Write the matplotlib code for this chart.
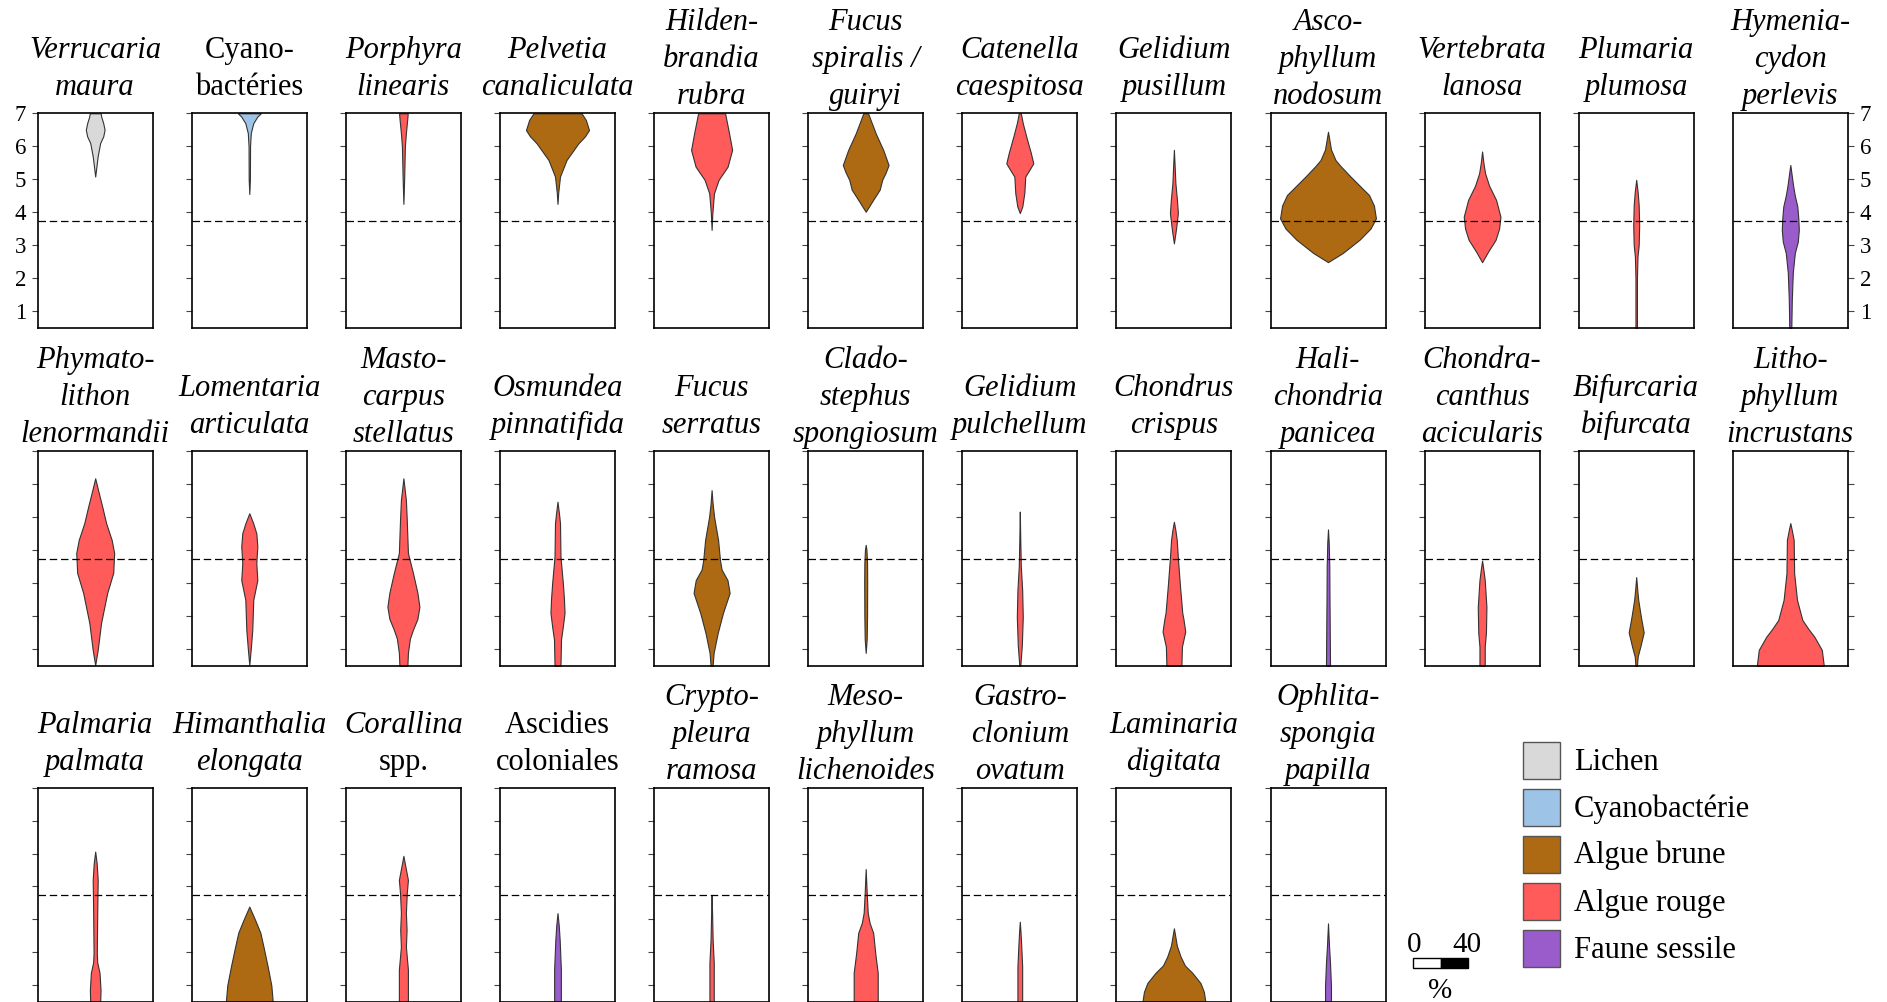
import matplotlib.pyplot as plt
from matplotlib.patches import Rectangle

plt.rcParams['font.family'] = ['Liberation Serif', 'DejaVu Serif']

# height / cover (%) profiles (bottom -> top)
verrucaria_h = [5.08, 5.4, 5.7, 6.1, 6.3, 6.5, 6.7, 6.9, 7.0]
verrucaria_c = [0, 1.9, 3.7, 7.4, 11.9, 13.9, 11.9, 8.9, 8.1]
cyano_h = [4.55, 5.0, 6.0, 6.4, 6.7, 6.9, 7.0]
cyano_c = [0, 0.9, 1.1, 2.2, 5.9, 11.9, 17.0]
porphyra_h = [4.25, 5.0, 6.0, 6.4, 6.8, 7.0]
porphyra_c = [0, 1.1, 2.2, 3.7, 5.6, 6.4]
pelvetia_h = [4.25, 4.6, 5.08, 5.58, 6.09, 6.3, 6.49, 6.8, 7.0]
pelvetia_c = [0, 1.1, 3.7, 13.3, 31.0, 40.7, 46.7, 42.0, 35.6]
hildenbrandia_h = [3.46, 3.96, 4.57, 4.98, 5.38, 5.89, 6.39, 7.0]
hildenbrandia_c = [0, 1.1, 3.5, 10.4, 23.7, 30.4, 25.9, 20.0]
fspiralis_h = [4.01, 4.37, 4.68, 4.98, 5.2, 5.43, 5.89, 6.39, 7.0]
fspiralis_c = [0, 11.0, 20.7, 24.4, 29.6, 33.9, 25.9, 14.8, 3.5]
catenella_h = [3.97, 4.17, 4.58, 5.08, 5.25, 5.48, 5.8, 6.29, 6.7, 7.0]
catenella_c = [0, 3.7, 6.7, 8.1, 13.3, 20.0, 16.3, 9.6, 4.4, 1.5]
gpusillum_h = [3.05, 3.47, 3.97, 4.4, 4.88, 5.4, 5.89]
gpusillum_c = [0, 3.0, 5.9, 4.4, 2.2, 1.1, 0]
ascophyllum_h = [2.48, 2.76, 3.16, 3.5, 3.81, 4.2, 4.52, 5.08, 5.4, 5.58, 5.9, 6.44]
ascophyllum_c = [0, 22.0, 46.7, 63.0, 71.0, 68.0, 60.7, 33.3, 18.5, 11.1, 4.4, 0]
vertebrata_h = [2.48, 2.8, 3.16, 3.5, 3.86, 4.37, 4.8, 5.18, 5.5, 5.84]
vertebrata_c = [0, 8.9, 20.0, 25.2, 27.2, 20.7, 10.4, 4.4, 1.9, 0]
plumaria_h = [0.48, 2.0, 2.65, 3.0, 3.6, 4.2, 4.6, 4.98]
plumaria_c = [1.1, 1.1, 1.9, 3.7, 4.4, 3.7, 2.2, 0]
hymeniacydon_h = [0.48, 1.33, 2.16, 2.76, 3.1, 3.46, 3.8, 4.17, 4.5, 4.77, 5.1, 5.43]
hymeniacydon_c = [1.5, 2.2, 3.7, 6.7, 11.1, 12.6, 11.9, 10.4, 6.7, 4.4, 2.2, 0]

phymatolithon_h = [0.5, 0.96, 1.78, 2.69, 3.3, 3.9, 4.3, 4.8, 5.31, 5.8, 6.17]
phymatolithon_c = [0, 3.7, 8.7, 17.8, 26.7, 28.1, 24.4, 16.3, 10.4, 4.4, 0]
lomentaria_h = [0.5, 1.0, 1.57, 2.48, 3.08, 3.6, 4.1, 4.5, 4.8, 5.11]
lomentaria_c = [0, 2.2, 4.4, 5.9, 11.9, 10.4, 11.9, 10.4, 5.9, 0]
mastocarpus_h = [0.48, 0.87, 1.3, 1.57, 1.9, 2.27, 2.7, 3.3, 3.9, 4.9, 5.51, 5.9, 6.17]
mastocarpus_c = [5.9, 6.7, 9.6, 14.1, 20.7, 23.7, 20.7, 14.1, 6.7, 5.0, 3.7, 1.5, 0]
osmundea_h = [0.48, 1.27, 1.7, 2.08, 2.5, 2.99, 3.8, 4.81, 5.1, 5.46]
osmundea_c = [4.4, 5.2, 8.1, 10.4, 9.6, 7.9, 4.4, 3.7, 2.2, 0]
fserratus_h = [0.48, 0.87, 1.48, 2.08, 2.69, 3.08, 3.4, 3.69, 4.3, 5.0, 5.4, 5.81]
fserratus_c = [1.5, 3.0, 9.1, 16.8, 26.7, 23.5, 14.8, 12.4, 9.6, 3.7, 1.5, 0]
cladostephus_h = [0.87, 1.3, 2.0, 3.0, 3.6, 4.0, 4.15]
cladostephus_c = [0, 1.5, 2.0, 2.2, 2.0, 1.1, 0]
gpulchellum_h = [0.48, 1.1, 1.96, 2.78, 3.5, 4.3, 5.16]
gpulchellum_c = [0.7, 3.0, 4.4, 3.5, 1.5, 0.7, 0]
chondrus_h = [0.48, 1.06, 1.52, 1.9, 2.08, 2.88, 3.69, 4.3, 4.6, 4.85]
chondrus_c = [11.1, 11.9, 16.8, 14.1, 12.4, 9.1, 6.1, 4.2, 2.2, 0]
halichondria_h = [0.48, 1.5, 2.5, 3.5, 4.2, 4.62]
halichondria_c = [3.0, 2.6, 2.2, 1.9, 1.1, 0]
chondracanthus_h = [0.48, 1.06, 1.48, 2.27, 3.08, 3.4, 3.67]
chondracanthus_c = [3.9, 3.9, 5.7, 6.4, 3.9, 1.9, 0]
bifurcaria_h = [0.48, 0.76, 1.06, 1.49, 1.97, 2.48, 2.8, 3.17]
bifurcaria_c = [1.1, 2.2, 6.1, 11.1, 6.9, 3.0, 1.5, 0]
lithophyllum_h = [0.48, 0.96, 1.36, 1.6, 1.87, 2.48, 3.29, 4.3, 4.6, 4.81]
lithophyllum_c = [49.6, 46.7, 35.6, 26.7, 17.8, 9.9, 5.7, 5.0, 2.2, 0]

palmaria_h = [0.48, 0.86, 1.38, 1.7, 1.98, 3.2, 4.2, 4.7, 5.06]
palmaria_c = [7.4, 7.9, 6.4, 3.0, 2.4, 3.0, 3.7, 2.2, 0]
himanthalia_h = [0.48, 1.0, 1.57, 2.17, 2.6, 2.98, 3.39]
himanthalia_c = [34.8, 32.6, 27.2, 21.0, 16.3, 8.7, 0]
corallina_h = [0.48, 1.47, 2.17, 2.68, 3.2, 3.8, 4.2, 4.6, 4.93]
corallina_c = [6.7, 6.7, 3.7, 4.7, 3.7, 5.0, 6.7, 3.0, 0]
ascidies_h = [0.48, 1.47, 2.38, 2.8, 3.19]
ascidies_c = [5.0, 5.0, 3.2, 1.9, 0]
cryptopleura_h = [0.48, 1.68, 2.4, 3.2, 3.74]
cryptopleura_c = [3.2, 3.2, 1.5, 0.7, 0]
mesophyllum_h = [0.48, 1.38, 1.98, 2.59, 2.9, 3.2, 3.8, 4.53]
mesophyllum_c = [17.8, 17.8, 14.1, 11.1, 5.7, 3.0, 1.5, 0]
gastroclonium_h = [0.48, 1.57, 2.17, 2.6, 2.93]
gastroclonium_c = [3.5, 3.5, 2.2, 1.1, 0]
laminaria_h = [0.48, 0.8, 1.07, 1.38, 1.6, 1.87, 2.2, 2.73]
laminaria_c = [46.7, 44.4, 39.3, 27.2, 16.3, 9.9, 4.4, 0]
ophlitaspongia_h = [0.48, 0.97, 1.67, 2.2, 2.88]
ophlitaspongia_c = [4.4, 4.4, 3.0, 1.5, 0]

profiles = [
    (verrucaria_h, verrucaria_c), (cyano_h, cyano_c), (porphyra_h, porphyra_c),
    (pelvetia_h, pelvetia_c), (hildenbrandia_h, hildenbrandia_c),
    (fspiralis_h, fspiralis_c), (catenella_h, catenella_c),
    (gpusillum_h, gpusillum_c), (ascophyllum_h, ascophyllum_c),
    (vertebrata_h, vertebrata_c), (plumaria_h, plumaria_c),
    (hymeniacydon_h, hymeniacydon_c),
    (phymatolithon_h, phymatolithon_c), (lomentaria_h, lomentaria_c),
    (mastocarpus_h, mastocarpus_c), (osmundea_h, osmundea_c),
    (fserratus_h, fserratus_c), (cladostephus_h, cladostephus_c),
    (gpulchellum_h, gpulchellum_c), (chondrus_h, chondrus_c),
    (halichondria_h, halichondria_c), (chondracanthus_h, chondracanthus_c),
    (bifurcaria_h, bifurcaria_c), (lithophyllum_h, lithophyllum_c),
    (palmaria_h, palmaria_c), (himanthalia_h, himanthalia_c),
    (corallina_h, corallina_c), (ascidies_h, ascidies_c),
    (cryptopleura_h, cryptopleura_c), (mesophyllum_h, mesophyllum_c),
    (gastroclonium_h, gastroclonium_c), (laminaria_h, laminaria_c),
    (ophlitaspongia_h, ophlitaspongia_c),
]

titles = [
    "Verrucaria\nmaura", "Cyano-\nbactéries", "Porphyra\nlinearis",
    "Pelvetia\ncanaliculata", "Hilden-\nbrandia\nrubra", "Fucus\nspiralis /\nguiryi",
    "Catenella\ncaespitosa", "Gelidium\npusillum", "Asco-\nphyllum\nnodosum",
    "Vertebrata\nlanosa", "Plumaria\nplumosa", "Hymenia-\ncydon\nperlevis",
    "Phymato-\nlithon\nlenormandii", "Lomentaria\narticulata", "Masto-\ncarpus\nstellatus",
    "Osmundea\npinnatifida", "Fucus\nserratus", "Clado-\nstephus\nspongiosum",
    "Gelidium\npulchellum", "Chondrus\ncrispus", "Hali-\nchondria\npanicea",
    "Chondra-\ncanthus\nacicularis", "Bifurcaria\nbifurcata", "Litho-\nphyllum\nincrustans",
    "Palmaria\npalmata", "Himanthalia\nelongata", "Corallina\nspp.",
    "Ascidies\ncoloniales", "Crypto-\npleura\nramosa", "Meso-\nphyllum\nlichenoides",
    "Gastro-\nclonium\novatum", "Laminaria\ndigitata", "Ophlita-\nspongia\npapilla",
]
roman_lines = {"Cyano-", "bactéries", "spp.", "Ascidies", "coloniales"}

groups = [
    "Lichen", "Cyanobactérie", "Algue rouge", "Algue brune", "Algue rouge",
    "Algue brune", "Algue rouge", "Algue rouge", "Algue brune", "Algue rouge",
    "Algue rouge", "Faune sessile",
    "Algue rouge", "Algue rouge", "Algue rouge", "Algue rouge", "Algue brune",
    "Algue brune", "Algue rouge", "Algue rouge", "Faune sessile", "Algue rouge",
    "Algue brune", "Algue rouge",
    "Algue rouge", "Algue brune", "Algue rouge", "Faune sessile", "Algue rouge",
    "Algue rouge", "Algue rouge", "Algue brune", "Faune sessile",
]
group_names = ["Lichen", "Cyanobactérie", "Algue brune", "Algue rouge", "Faune sessile"]
group_colors = ["#d9d9d9", "#9dc3e6", "#ae6a12", "#ff5b5b", "#9a5ccb"]
colour_of = dict(zip(group_names, group_colors))

ref_level = 3.73
yticks = [1, 2, 3, 4, 5, 6, 7]

W, H = 1887, 1002
fig = plt.figure(figsize=(W / 100, H / 100), dpi=100)

# overlay in pixel coords for titles / legend
over = fig.add_axes([0, 0, 1, 1], zorder=5)
over.set_xlim(0, W)
over.set_ylim(H, 0)
over.axis('off')

x0, dx, pw = 37.7, 154.1, 115.0
row_tops = [113.3, 451.0, 787.7]
ph = 214.7
half = pw / 2 / 1.35  # 54 px == 40 %

for i, (prof, title, grp) in enumerate(zip(profiles, titles, groups)):
    row, col = divmod(i, 12)
    left = x0 + col * dx
    top = row_tops[row]
    ax = fig.add_axes([left / W, 1 - (top + ph) / H, pw / W, ph / H])
    h, c = prof
    ax.fill_betweenx(h, [-v / 2 for v in c], [v / 2 for v in c],
                     facecolor=colour_of[grp], edgecolor='#333333', linewidth=0.8)
    ax.axhline(ref_level, color='black', linewidth=0.9, linestyle=(0, (6, 3)))
    ax.set_xlim(-half, half)
    ax.set_ylim(0.48, 7.0)
    ax.set_xticks([])
    ax.set_yticks(yticks)
    for s in ax.spines.values():
        s.set_linewidth(1.2)
    last_in_row = (col == 11)
    ax.tick_params(axis='y', direction='out', length=4.5, width=0.8, color='#444444',
                   labelsize=16.5, pad=4, left=not last_in_row, right=last_in_row,
                   labelleft=(i == 0), labelright=(i == 11))

    lines = title.split('\n')
    off = 18 if len(lines) == 2 else 9
    for k, line in enumerate(reversed(lines)):
        over.text(left + pw / 2, top - off - k * 37, line, ha='center', va='baseline',
                  fontsize=22, style='normal' if line in roman_lines else 'italic')

# legend
for j, (name, col) in enumerate(zip(group_names, group_colors)):
    cy = 760.5 + j * 47
    over.add_patch(Rectangle((1523, cy - 18.5), 37, 37, facecolor=col,
                             edgecolor='#555555', linewidth=1.0))
    over.text(1574, cy + 9, name, ha='left', va='baseline', fontsize=22)

# width scale bar
over.add_patch(Rectangle((1413, 957.7), 28, 10.6, facecolor='white',
                         edgecolor='black', linewidth=1.0))
over.add_patch(Rectangle((1441, 957.7), 26.5, 10.6, facecolor='black',
                         edgecolor='black', linewidth=1.0))
over.text(1414, 951.7, "0", ha='center', va='baseline', fontsize=21)
over.text(1467, 951.7, "40", ha='center', va='baseline', fontsize=21)
over.text(1440, 998, "%", ha='center', va='baseline', fontsize=21)

fig.savefig('out.png', dpi=100)
